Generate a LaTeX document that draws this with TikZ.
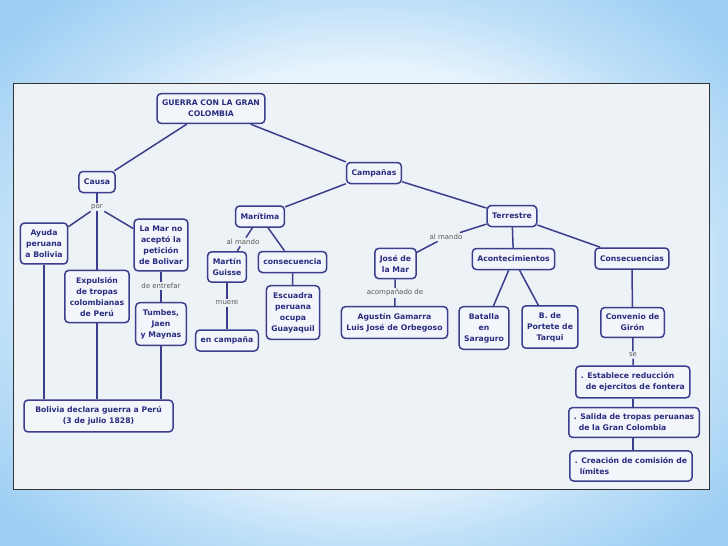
\documentclass[tikz,border=0pt]{standalone}
\usepackage{fontspec}
\setmainfont{DejaVu Sans}
\definecolor{mapblue}{HTML}{3B3E8C}
\definecolor{maptext}{HTML}{2A2C80}
\definecolor{panelbg}{HTML}{EDF2F6}
\definecolor{boxbg}{HTML}{F2F6FA}
\definecolor{linkgray}{HTML}{595959}
\definecolor{skyA}{HTML}{F4FAFF}
\definecolor{skyB}{HTML}{E6F3FD}
\definecolor{skyC}{HTML}{BFE0F8}
\definecolor{skyD}{HTML}{9DCEF3}
\pgfdeclareradialshading{skyglow}{\pgfpoint{0bp}{0bp}}{color(0bp)=(skyA); color(19bp)=(skyB); color(25bp)=(skyC); color(33bp)=(skyD); color(50bp)=(skyD)}
\begin{document}
\begin{tikzpicture}[x=1pt,y=-1pt,
  concept/.style={draw=mapblue, line width=1.5pt, rounded corners=4pt, fill=boxbg, text=maptext,
    font=\fontsize{7.7}{11}\selectfont\bfseries, align=center, inner xsep=5pt, inner ysep=6.5pt, minimum height=21pt},
  linkword/.style={text=linkgray, font=\fontsize{7}{8}\selectfont, inner sep=1.5pt},
  link/.style={draw=mapblue, line width=1.5pt}]
\useasboundingbox (0,0) rectangle (728,546);
\shade[shading=skyglow] (0,0) rectangle (728,546);
\draw[fill=panelbg, draw=black!80, line width=0.8pt] (13,83) rectangle (709,489);

\node[concept] (title) at (211,108.5) {GUERRA CON LA GRAN\\COLOMBIA};
\node[concept] (causa) at (97,182) {Causa};
\node[concept] (campanas) at (374,173) {Campañas};
\node[concept] (maritima) at (260,216.5) {Marítima};
\node[concept] (terrestre) at (512,216) {Terrestre};
\node[concept] (ayuda) at (44,243.5) {Ayuda\\peruana\\a Bolivia};
\node[concept] (expulsion) at (97,296.5) {Expulsión\\de tropas\\colombianas\\de Perú};
\node[concept] (lamar) at (161,245) {La Mar no\\aceptó la\\petición\\de Bolivar};
\node[concept] (tumbes) at (161,324) {Tumbes,\\Jaen\\y Maynas};
\node[concept, minimum width=149pt] (bolivia) at (98.5,416) {Bolivia declara guerra a Perú\\(3 de julio 1828)};
\node[concept] (guisse) at (227,267) {Martín\\Guisse};
\node[concept] (consec) at (292.5,262) {consecuencia};
\node[concept] (encampana) at (227,340.5) {en campaña};
\node[concept] (escuadra) at (293,312.5) {Escuadra\\peruana\\ocupa\\Guayaquil};
\node[concept] (josemar) at (395.5,263.5) {José de\\la Mar};
\node[concept] (gamarra) at (394.5,322.5) {Agustín Gamarra\\Luis José de Orbegoso};
\node[concept] (acont) at (513.5,259) {Acontecimientos};
\node[concept] (consecs) at (632,258.5) {Consecuencias};
\node[concept] (batalla) at (484,328) {Batalla\\en\\Saraguro};
\node[concept] (portete) at (550,327) {B. de\\Portete de\\Tarqui};
\node[concept] (giron) at (632.5,322.5) {Convenio de\\Girón};
\node[concept, align=left, anchor=west] (reduccion) at (575,382) {. Establece reducción\\\hspace*{5pt}de ejercitos de fontera};
\node[concept, align=left, anchor=west] (salida) at (568,422.5) {. Salida de tropas peruanas\\\hspace*{5pt}de la Gran Colombia};
\node[concept, align=left, anchor=west] (comision) at (569,466) {. Creación de comisión de\\\hspace*{5pt}límites};

\node[linkword] (por) at (97,207) {por};
\node[linkword] (mando1) at (243,242) {al mando};
\node[linkword] (entrefar) at (161,286) {de entrefar};
\node[linkword] (muere) at (227,303) {muere};
\node[linkword] (mando2) at (446,237) {al mando};
\node[linkword] (acomp) at (395,293) {acompañado de};
\node[linkword] (se) at (633,355) {se};

\draw[link] (title) -- (causa);
\draw[link] (title) -- (campanas);
\draw[link] (campanas) -- (maritima);
\draw[link] (campanas) -- (terrestre);
\draw[link] (causa) -- (por);
\foreach \n in {ayuda,expulsion,lamar}
  \draw[link] (por) -- (\n);
\foreach \n in {ayuda,expulsion,tumbes}
  \draw[link] (\n) -- (\n |- bolivia.north);
\draw[link] (lamar) -- (entrefar) -- (tumbes);
\draw[link] (maritima) -- (mando1) -- (guisse);
\draw[link] (guisse) -- (muere) -- (encampana);
\draw[link] (maritima) -- (consec);
\draw[link] (consec) -- (escuadra);
\draw[link] (terrestre) -- (mando2) -- (josemar);
\draw[link] (josemar) -- (acomp) -- (gamarra);
\draw[link] (terrestre) -- (acont);
\draw[link] (terrestre) -- (consecs);
\draw[link] (acont) -- (batalla);
\draw[link] (acont) -- (portete);
\draw[link] (consecs) -- (giron);
\draw[link] (giron) -- (se) -- (se |- reduccion.north);
\draw[link] (reduccion.south -| se) -- (salida.north -| se);
\draw[link] (salida.south -| se) -- (comision.north -| se);
\end{tikzpicture}
\end{document}
